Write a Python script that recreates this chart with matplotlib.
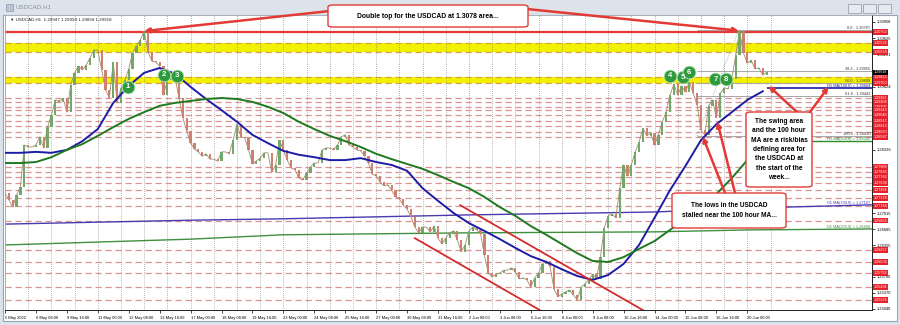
import numpy as np
import matplotlib.pyplot as plt
from matplotlib.patches import Rectangle, FancyBboxPatch

plt.rcParams['font.family'] = ['Liberation Sans', 'DejaVu Sans']

W, H = 900, 325

# USDCAD H1 closes, one every 4 hourly bars
close = [
    1.2743, 1.2729, 1.2714, 1.2739, 1.2756, 1.2842, 1.2838, 1.2838, 1.2842, 1.2859,
    1.2836, 1.2879, 1.2904, 1.2935, 1.2931, 1.2939, 1.2910, 1.2966, 1.2991, 1.3005,
    1.2997, 1.3007, 1.3022, 1.3038, 1.3038, 1.2997, 1.2956, 1.2939, 1.3013, 1.2929,
    1.2960, 1.2976, 1.2999, 1.3032, 1.3046, 1.3059, 1.3077, 1.3034, 1.3015, 1.3013,
    1.3005, 1.2945, 1.2976, 1.2991, 1.2980, 1.2939, 1.2898, 1.2871, 1.2846, 1.2834,
    1.2828, 1.2819, 1.2824, 1.2813, 1.2813, 1.2809, 1.2828, 1.2828, 1.2824, 1.2852,
    1.2885, 1.2859, 1.2857, 1.2832, 1.2803, 1.2809, 1.2815, 1.2826, 1.2826, 1.2786,
    1.2801, 1.2852, 1.2832, 1.2811, 1.2795, 1.2791, 1.2774, 1.2770, 1.2784, 1.2797,
    1.2805, 1.2805, 1.2832, 1.2836, 1.2836, 1.2832, 1.2842, 1.2859, 1.2863, 1.2842,
    1.2838, 1.2832, 1.2830, 1.2819, 1.2805, 1.2782, 1.2778, 1.2766, 1.2758, 1.2760,
    1.2749, 1.2735, 1.2731, 1.2718, 1.2710, 1.2694, 1.2673, 1.2661, 1.2673, 1.2673,
    1.2663, 1.2675, 1.2650, 1.2638, 1.2650, 1.2661, 1.2665, 1.2646, 1.2622, 1.2636,
    1.2665, 1.2673, 1.2667, 1.2659, 1.2615, 1.2578, 1.2570, 1.2576, 1.2578, 1.2584,
    1.2584, 1.2589, 1.2580, 1.2566, 1.2568, 1.2564, 1.2549, 1.2568, 1.2578, 1.2597,
    1.2603, 1.2591, 1.2545, 1.2529, 1.2535, 1.2539, 1.2543, 1.2533, 1.2523, 1.2549,
    1.2556, 1.2564, 1.2576, 1.2566, 1.2611, 1.2671, 1.2696, 1.2700, 1.2692, 1.2753,
    1.2801, 1.2778, 1.2801, 1.2828, 1.2848, 1.2877, 1.2861, 1.2867, 1.2842, 1.2863,
    1.2890, 1.2910, 1.2945, 1.2968, 1.2945, 1.2964, 1.2951, 1.2972, 1.2949, 1.2925,
    1.2873, 1.2863, 1.2923, 1.2935, 1.2898, 1.2949, 1.2960, 1.2958, 1.2978, 1.3028,
    1.3078, 1.3032, 1.3011, 1.3017, 1.2999, 1.3001, 1.2986, 1.2992,
]
close_step = 4
last_price = 1.29918

# hourly moving averages, one value every 16 bars
ma100 = [1.2826, 1.2826, 1.2828, 1.2826, 1.2832, 1.2850, 1.2875, 1.2929, 1.2964, 1.2991,
         1.3001, 1.2989, 1.2962, 1.2937, 1.2914, 1.2890, 1.2863, 1.2846, 1.2830, 1.2822,
         1.2817, 1.2811, 1.2811, 1.2815, 1.2807, 1.2801, 1.2789, 1.2753, 1.2727, 1.2702,
         1.2681, 1.2665, 1.2648, 1.2630, 1.2613, 1.2601, 1.2586, 1.2572, 1.2564, 1.2574,
         1.2597, 1.2636, 1.2692, 1.2749, 1.2799, 1.2852, 1.2885, 1.2910, 1.2935, 1.2953]
ma200 = [1.2805, 1.2805, 1.2807, 1.2817, 1.2832, 1.2844, 1.2861, 1.2879, 1.2896, 1.2910,
         1.2923, 1.2929, 1.2933, 1.2937, 1.2939, 1.2937, 1.2931, 1.2921, 1.2908, 1.2890,
         1.2875, 1.2861, 1.2850, 1.2838, 1.2824, 1.2813, 1.2803, 1.2793, 1.2780, 1.2766,
         1.2753, 1.2735, 1.2714, 1.2696, 1.2675, 1.2657, 1.2638, 1.2619, 1.2603, 1.2601,
         1.2611, 1.2628, 1.2644, 1.2667, 1.2690, 1.2714, 1.2741, 1.2774, 1.2811, 1.2836]
ma_step = 16
h1_ma100_now = 1.29604
h1_ma200_now = 1.28502

# daily moving averages
d1_bars = [0, 96, 192, 288, 384, 480, 576, 672, 768, 897]
d1_ma100 = [1.2679, 1.2683, 1.2687, 1.2690, 1.2694, 1.2698, 1.2701, 1.2704, 1.2712, 1.27187]
d1_ma200 = [1.2636, 1.2642, 1.2648, 1.2657, 1.2659, 1.2661, 1.2662, 1.2663, 1.2667, 1.26690]

time_labels = ['5 May 2022', '6 May 08:00', '9 May 16:00', '11 May 00:00', '12 May 08:00',
               '13 May 16:00', '17 May 00:00', '18 May 08:00', '19 May 16:00', '23 May 00:00',
               '24 May 08:00', '25 May 16:00', '27 May 00:00', '30 May 08:00', '31 May 16:00',
               '2 Jun 00:00', '3 Jun 08:00', '6 Jun 16:00', '8 Jun 00:00', '9 Jun 08:00',
               '10 Jun 16:00', '14 Jun 00:00', '15 Jun 08:00', '16 Jun 16:00', '20 Jun 00:00']
label_step = 32
grid_step = 24

# scale labels that are not hidden under the price tags
price_ticks = [1.30958, 1.30625, 1.30291, 1.29624, 1.28326, 1.27015, 1.26685, 1.26355,
               1.25700, 1.25370, 1.25040]

double_top = 1.30753
yellow_bands = [(1.30339, 1.30524), (1.29700, 1.29823)]
levels = [1.29391, 1.29308, 1.29205, 1.29143, 1.29040, 1.28917, 1.28813, 1.28690, 1.28587,
          1.27968, 1.27865, 1.27762, 1.27638, 1.27494, 1.27329, 1.27164, 1.26863,
          1.26257, 1.26009, 1.25782, 1.25494, 1.25226]

fib_low, fib_high = 1.28610, 1.30787
fib_low_bar, fib_high_bar = 716, 759
fib_pcts = [0.0, 38.2, 50.0, 61.8, 100.0]

counts = [1, 2, 3, 4, 5, 6, 7, 8]
count_bars = [127, 164, 178, 688, 701, 708, 735, 746]
count_prices = [1.2962, 1.2987, 1.2985, 1.2985, 1.2982, 1.2992, 1.2978, 1.2978]

channel_lower = ([424, 560], [1.2650, 1.2494])
channel_upper = ([471, 664], [1.2718, 1.2497])

RED = '#e33a36'


def fxy(x, y):
    # pixel position (from top-left) -> figure fraction
    return x / W, 1 - y / H


fig = plt.figure(figsize=(W / 100, H / 100), dpi=100)
fig.patch.set_facecolor('#dde3ea')
fig.patches.append(Rectangle(fxy(3, 321), 894 / W, 306 / H, transform=fig.transFigure,
                             facecolor='white', edgecolor='#9aa4ae', lw=0.8, zorder=-5))
fig.text(*fxy(16, 7), 'USDCAD,H1', fontsize=4.5, color='#8593a2', va='center')
fig.patches.append(Rectangle(fxy(6, 11), 7 / W, 7 / H, transform=fig.transFigure,
                             facecolor='#b8c6d6', edgecolor='#8a98a8', lw=0.5))
for bx in [848, 863, 878]:
    fig.patches.append(Rectangle(fxy(bx, 13), 13 / W, 9 / H, transform=fig.transFigure,
                                 facecolor='#e6ebf0', edgecolor='#9aa4ae', lw=0.6))

ax = fig.add_axes([5 / W, 15 / H, 867 / W, 295 / H])
ax.set_xlim(0, 897)
ax.set_ylim(1.25019, 1.31102)

# grid
for b in range(grid_step, 800, grid_step):
    ax.axvline(b, color='#707070', lw=0.5, ls=(0, (1, 2)), zorder=1)

# levels
for lo, hi in yellow_bands:
    ax.axhspan(lo, hi, color='#f2f200', lw=0, zorder=0.5)
    for v in (lo, hi):
        ax.axhline(v, color='#d8a23c', lw=0.9, ls=(0, (5, 3)), zorder=1)
for v in levels:
    ax.axhline(v, color='#d99595', lw=0.9, ls=(0, (5, 3)), zorder=1)
ax.axhline(double_top, color=RED, lw=1.6, zorder=2)

# daily MAs
ax.plot(d1_bars, d1_ma100, color='#4a3ab0', lw=1.0, zorder=2)
ax.plot(d1_bars, d1_ma200, color='#3f8f3f', lw=1.0, zorder=2)
ax.text(895, d1_ma100[-1], 'D1 MA(100,0) = %.5f' % d1_ma100[-1], color='#4a3ab0',
        fontsize=2.8, ha='right', va='bottom')
ax.text(895, d1_ma200[-1], 'D1 MA(200,0) = %.5f' % d1_ma200[-1], color='#3f8f3f',
        fontsize=2.8, ha='right', va='bottom')

# fibonacci
ax.plot([fib_low_bar, fib_high_bar], [fib_low, fib_high], color='#9a9a9a', lw=0.6,
        ls=(0, (1, 1.5)), zorder=2)
for pct in fib_pcts:
    lvl = fib_high - pct / 100 * (fib_high - fib_low)
    ax.hlines(lvl, fib_low_bar, 897, color='#a6a6a6', lw=0.7, zorder=2)
    ax.text(895, lvl, '%.1f - %.5f' % (pct, lvl), color='#333333', fontsize=2.8,
            ha='right', va='bottom', zorder=3)

# candles
c = np.array(close)
bars = np.arange(len(c)) * close_step
o = np.r_[c[0], c[:-1]]
up = c >= o
ax.plot(bars, c, color='#a08a70', lw=0.6, zorder=3)
ax.bar(bars[up], (c - o)[up], bottom=o[up], width=2.3, color='#72a86a', lw=0, zorder=3)
ax.bar(bars[~up], (c - o)[~up], bottom=o[~up], width=2.3, color='#cf8170', lw=0, zorder=3)

# hourly MAs
mb = np.arange(len(ma100)) * ma_step
ax.plot(mb, ma100, color='#1c1ca6', lw=1.4, zorder=4)
ax.plot(mb, ma200, color='#1f7a1f', lw=1.4, zorder=4)
ax.hlines(h1_ma100_now, bars[-1], 897, color='#1c1ca6', lw=1.2, zorder=4)
ax.hlines(h1_ma200_now, 815, 897, color='#2c8c2c', lw=1.0, zorder=4)
ax.text(895, h1_ma100_now, 'H1 MA(100,0) = %.5f' % h1_ma100_now, color='#1c1ca6',
        fontsize=2.8, ha='right', va='bottom', zorder=5)
ax.text(895, h1_ma200_now, 'H1 MA(200,0) = %.5f' % h1_ma200_now, color='#2c8c2c',
        fontsize=2.8, ha='right', va='bottom', zorder=5)

# channel
ax.plot(*channel_lower, color='#d42c2c', lw=1.3, zorder=4)
ax.plot(*channel_upper, color='#d42c2c', lw=1.3, zorder=4)

# numbered touches
ax.scatter(count_bars, count_prices, s=85, c='#2f9a3c', edgecolors='#bfe3bf', lw=0.6,
           zorder=7)
for n, b, p in zip(counts, count_bars, count_prices):
    ax.text(b, p, str(n), color='white', fontsize=5.6, fontweight='bold', ha='center',
            va='center', zorder=8)

# axes styling
ax.yaxis.tick_right()
ax.set_yticks(price_ticks)
ax.set_yticklabels(['%.5f' % v for v in price_ticks])
ax.tick_params(axis='y', length=2, width=0.5, labelsize=2.9, pad=1.5)
ax.set_xticks(np.arange(len(time_labels)) * label_step)
ax.set_xticklabels(time_labels, ha='left')
ax.tick_params(axis='x', length=2.5, width=0.5, labelsize=2.9, pad=1.5)
for side in ['top', 'left']:
    ax.spines[side].set_color('#9aa4ae')
    ax.spines[side].set_linewidth(0.6)
for side in ['right', 'bottom']:
    ax.spines[side].set_color('#202020')
    ax.spines[side].set_linewidth(0.7)

ax.text(0.006, 0.99, '\u25bc USDCAD,H1  1.29947 1.29994 1.29894 1.29918',
        transform=ax.transAxes, fontsize=3.2, va='top', color='#202020')

# price tags on the scale
ytr = ax.get_yaxis_transform()
tag_values = [double_top] + [v for band in yellow_bands for v in band] + levels
for v in tag_values:
    ax.text(1.002, v, '%.5f' % v, transform=ytr, fontsize=2.7, color='white', ha='left',
            va='center', clip_on=False, zorder=9,
            bbox=dict(boxstyle='square,pad=0.2', fc='#e8202a', ec='none'))
ax.text(1.002, last_price, '%.5f' % last_price, transform=ytr, fontsize=2.7, color='white',
        ha='left', va='center', clip_on=False, zorder=10,
        bbox=dict(boxstyle='square,pad=0.2', fc='black', ec='none'))


# annotation boxes
def note_box(x0, y0, x1, y1, text, size, spacing=1.2):
    fig.patches.append(FancyBboxPatch(fxy(x0, y1), (x1 - x0) / W, (y1 - y0) / H,
                                      boxstyle='round,pad=0,rounding_size=0.006',
                                      transform=fig.transFigure, facecolor='white',
                                      edgecolor=RED, lw=1.0, zorder=20))
    fig.text(*fxy((x0 + x1) / 2, (y0 + y1) / 2), text, fontsize=size, fontweight='bold',
             ha='center', va='center', linespacing=spacing, zorder=21)


def arrow(src_px, bar, price):
    a = ax.annotate('', xy=(bar, price), xycoords='data', xytext=fxy(*src_px),
                    textcoords='figure fraction', annotation_clip=False,
                    arrowprops=dict(arrowstyle='-|>', color=RED, lw=1.8, mutation_scale=7,
                                    shrinkA=0, shrinkB=0), zorder=15)
    a.arrow_patch.set_clip_on(False)


arrow((330, 11), 144, 1.3077)
arrow((527, 9), 759, 1.3078)
arrow((797, 112), 790, 1.2964)
arrow((810, 112), 852, 1.2962)
arrow((725, 193), 722, 1.2859)
arrow((735, 193), 737, 1.2890)

note_box(328, 5, 528, 27, 'Double top for the USDCAD at 1.3078 area...', 4.9)
note_box(746, 112, 812, 187, 'The swing area\nand the 100 hour\nMA are a risk/bias\n'
         'defining area for\nthe USDCAD at\nthe start of the\nweek...', 4.8, 1.45)
note_box(672, 193, 786, 228, 'The lows in the USDCAD\nstalled near the 100 hour MA...', 4.7,
         1.45)

fig.savefig('out.png', dpi=100, facecolor=fig.get_facecolor())
